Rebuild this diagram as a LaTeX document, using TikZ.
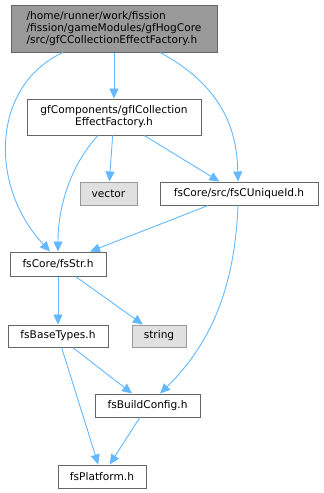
\documentclass[tikz,border=0pt]{standalone}
\usepackage{fontspec}
\setmainfont{DejaVu Sans}
\usetikzlibrary{arrows.meta, positioning}
\definecolor{edgeblue}{HTML}{63B8FF}
\definecolor{boxline}{HTML}{666666}
\definecolor{topfill}{HTML}{999999}
\definecolor{sysfill}{HTML}{E0E0E0}
\definecolor{sysline}{HTML}{999999}
\tikzset{
    block/.style={rectangle, draw=boxline, fill=white, align=center, inner sep=0pt, font=\fontsize{10.6}{12}\selectfont, line width=1pt},
    mainblock/.style={block, fill=topfill, align=left},
    sysblock/.style={block, draw=sysline, fill=sysfill},
    arrow/.style={edgeblue, line width=0.9pt, -{Triangle[length=10pt, width=9pt]}}
}

\begin{document}
\begin{tikzpicture}[x=1pt, y=-1pt]
    \useasboundingbox (0,0) rectangle (324,493);

    \node (main) [mainblock, minimum width=206pt, minimum height=47pt] at (114,28.5) {/home/runner/work/fission\\/fission/gameModules/gfHogCore\\/src/gfCCollectionEffectFactory.h};
    \node (gficoll) [block, minimum width=174pt, minimum height=36pt] at (114,117) {gfComponents/gfICollection\\EffectFactory.h};
    \node (vector) [sysblock, minimum width=57pt, minimum height=23pt] at (108.5,193.5) {vector};
    \node (uniqueid) [block, minimum width=158pt, minimum height=23pt] at (239,193.5) {fsCore/src/fsCUniqueId.h};
    \node (fsstr) [block, minimum width=96pt, minimum height=24pt] at (58,264) {fsCore/fsStr.h};
    \node (basetypes) [block, minimum width=100pt, minimum height=22pt] at (58,336) {fsBaseTypes.h};
    \node (string) [sysblock, minimum width=54pt, minimum height=22pt] at (159,336) {string};
    \node (buildconfig) [block, minimum width=105pt, minimum height=23pt] at (147.5,405.5) {fsBuildConfig.h};
    \node (platform) [block, minimum width=88pt, minimum height=23pt] at (102,476.5) {fsPlatform.h};

    \draw [arrow] ([xshift=-51pt]main.south) .. controls (-8,85) and (-12,185) .. ([xshift=-8pt]fsstr.north);
    \draw [arrow] (main) -- (gficoll);
    \draw [arrow] ([xshift=46pt]main.south) .. controls (230,90) and (237,140) .. ([xshift=-1pt]uniqueid.north);
    \draw [arrow] ([xshift=-16pt]gficoll.south) .. controls (75,160) and (58,200) .. (fsstr.north);
    \draw [arrow] (gficoll) -- (vector);
    \draw [arrow] (gficoll) -- (uniqueid);
    \draw [arrow] (uniqueid) -- (fsstr);
    \draw [arrow] ([xshift=-1pt]uniqueid.south) .. controls (235,280) and (215,340) .. ([xshift=12.5pt]buildconfig.north);
    \draw [arrow] (fsstr) -- (basetypes);
    \draw [arrow] (fsstr) -- (string);
    \draw [arrow] (basetypes) -- (buildconfig);
    \draw [arrow] (basetypes) -- (platform);
    \draw [arrow] (buildconfig) -- (platform);
\end{tikzpicture}
\end{document}
